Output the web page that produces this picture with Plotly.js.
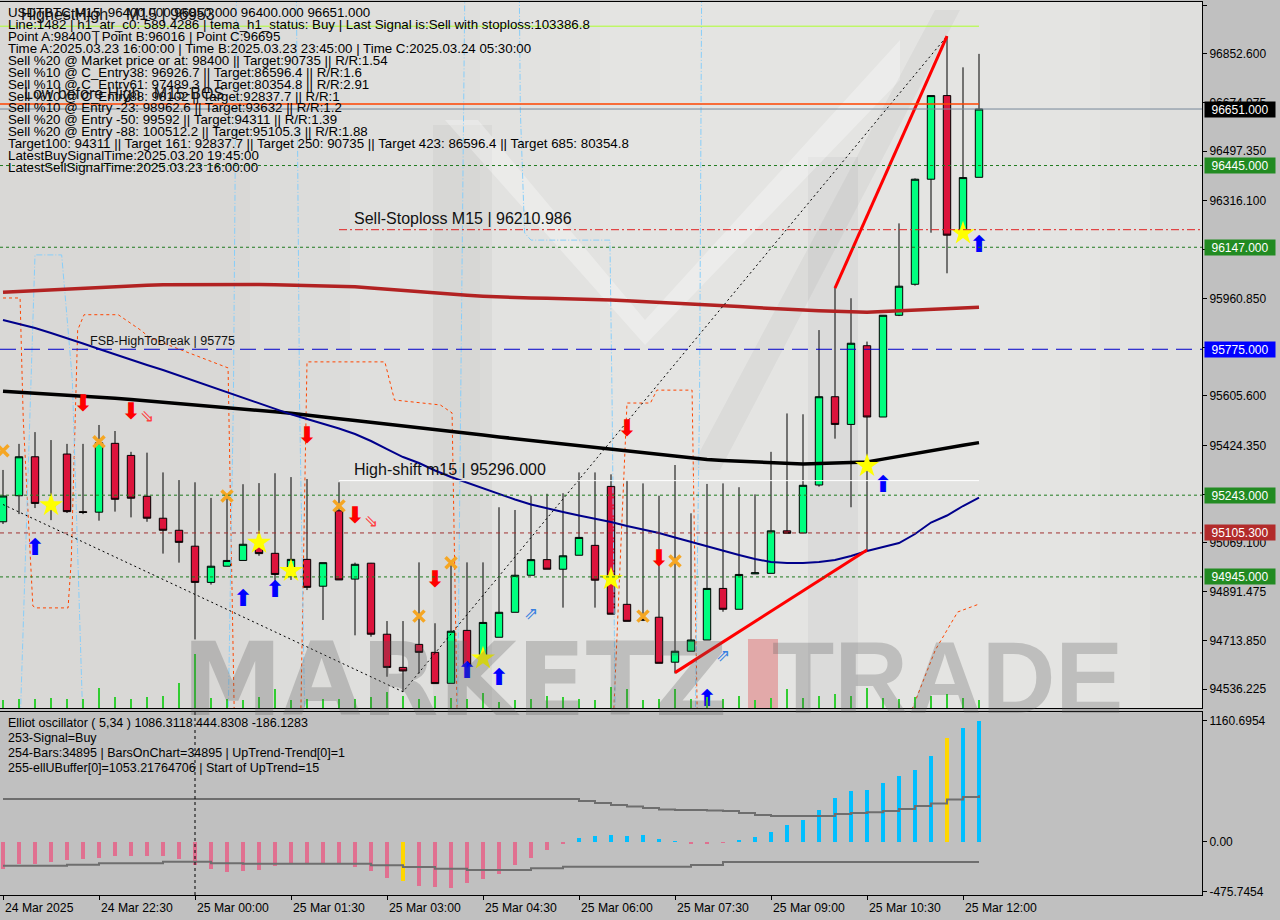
<!DOCTYPE html>
<html><head><meta charset="utf-8">
<script src="https://cdn.plot.ly/plotly-3.0.1.min.js"></script>
<style>html,body{margin:0;padding:0;background:#c0c0c0}#chart{width:1280px;height:920px}</style>
</head><body><div id="chart"></div>
<script>
// ---------------- DATA ----------------
const times = [
'2025-03-24 21:00','2025-03-24 21:15','2025-03-24 21:30','2025-03-24 21:45','2025-03-24 22:00','2025-03-24 22:15',
'2025-03-24 22:30','2025-03-24 22:45','2025-03-24 23:00','2025-03-24 23:15','2025-03-24 23:30','2025-03-24 23:45',
'2025-03-25 00:00','2025-03-25 00:15','2025-03-25 00:30','2025-03-25 00:45','2025-03-25 01:00','2025-03-25 01:15',
'2025-03-25 01:30','2025-03-25 01:45','2025-03-25 02:00','2025-03-25 02:15','2025-03-25 02:30','2025-03-25 02:45',
'2025-03-25 03:00','2025-03-25 03:15','2025-03-25 03:30','2025-03-25 03:45','2025-03-25 04:00','2025-03-25 04:15',
'2025-03-25 04:30','2025-03-25 04:45','2025-03-25 05:00','2025-03-25 05:15','2025-03-25 05:30','2025-03-25 05:45',
'2025-03-25 06:00','2025-03-25 06:15','2025-03-25 06:30','2025-03-25 06:45','2025-03-25 07:00','2025-03-25 07:15',
'2025-03-25 07:30','2025-03-25 07:45','2025-03-25 08:00','2025-03-25 08:15','2025-03-25 08:30','2025-03-25 08:45',
'2025-03-25 09:00','2025-03-25 09:15','2025-03-25 09:30','2025-03-25 09:45','2025-03-25 10:00','2025-03-25 10:15',
'2025-03-25 10:30','2025-03-25 10:45','2025-03-25 11:00','2025-03-25 11:15','2025-03-25 11:30','2025-03-25 11:45',
'2025-03-25 12:00','2025-03-25 12:15'];

const open = [95146,95241,95383,95211,95393,95183,95181,95432,95388,95239, 95159,95115,95057,94925,94984,95005,95055,95031,94954,95009,
  94911,95186,94937,94995,94736,94615,94699,94670,94557,94750, 94655,94725,94816,94951,95008,94973,95024,95060,95275,94845,
  94791,94798,94634,94674,94715,94903,94827,94956,94958,95113, 95105,95280,95602,95501,95788,95528,95899,96012,96395,96700,
  96210,96402];
const high = [95335,95430,95473,95444,95430,95430,95499,95477,95401,95398, 95326,95298,95290,95233,95237,95283,95287,95323,95309,95302,
  94997,95290,94997,94996,94784,94784,94998,94776,94998,94998, 94998,95199,95189,95241,95248,95250,95326,95326,95319,95297,
  95286,95241,95353,95177,95284,95286,95272,95246,95401,95541, 95538,95845,96001,95961,95803,95899,96234,96398,96700,96917,
  96803,96852];
const low = [95138,95174,95196,95152,95178,95174,95150,95183,95162,95146, 95030,94997,94717,94917,94984,95005,95022,94897,94934,94897,
  94788,94934,94732,94727,94581,94526,94593,94556,94557,94618, 94655,94725,94816,94951,94973,94833,95024,94833,94809,94783,
  94784,94630,94593,94674,94715,94818,94827,94956,94958,95104, 95105,95274,95449,95199,95043,95528,95896,96007,96200,96052,
  96192,96402];
const close = [95240,95383,95213,95200,95183,95180,95434,95228,95232,95159, 95115,95071,94925,94984,95005,95064,95030,94954,95009,94907,
  94997,94934,94991,94736,94615,94602,94670,94556,94747,94621, 94779,94816,94951,95008,94973,95022,95089,94933,94809,94783,
  94788,94630,94674,94715,94903,94827,94954,94960,95113,95104, 95279,95602,95501,95797,95528,95899,96005,96395,96700,96191,
  96401,96651];
const volumes = [8,9,9,10,9,9,20,11,9,11, 12,25,54,10,9,8,11,19,8,9, 9,9,9,11,16,12,9,12,10,9,
  15,6,8,9,12,11,9,8,21,19, 8,9,19,9,11,9,12,8,10,19, 10,12,14,12,20,10,9,11,12,14, 10,8];

const maSlow = [95982.7,95985.6,95989.2,95992.9,95996.5,95999.1,96002.0,96004.5,96006.4,96008.6, 96010.0,96010.7,96011.1,96011.5,96011.8,96011.8,96011.1,96010.0,96008.6,96007.5,
  96006.7,96005.6,96002.7,95998.3,95993.6,95988.1,95983.0,95978.3,95974.6,95971.7, 95968.5,95965.5,95963.3,95961.9,95960.8,95959.7,95959.0,95957.1,95954.6,95951.7,
  95949.1,95946.6,95943.7,95940.7,95937.5,95934.2,95930.9,95927.2,95923.6,95920.7, 95918.1,95915.6,95913.4,95910.8,95909.7,95912.3,95915.2,95917.0,95920.0,95922.5,
  95925.4,95928.0];
const maMid = [95622.1,95618.8,95615.1,95611.5,95608.2,95604.6,95600.9,95596.5,95591.8,95587.1, 95582.7,95577.9,95573.2,95568.1,95563.0,95557.5,95552.4,95546.9,95541.8,95536.0,
  95528.7,95521.8,95514.9,95507.9,95501.0,95494.1,95487.5,95481.0,95474.8,95468.2, 95462.0,95455.4,95448.9,95442.7,95436.1,95429.9,95423.3,95416.8,95410.6,95404.0,
  95397.8,95391.3,95384.7,95378.5,95373.4,95369.7,95366.5,95363.2,95360.3,95357.4, 95356.6,95358.4,95360.3,95362.1,95363.9,95374.5,95385.1,95395.3,95406.2,95415.7,
  95425.2,95434.6];
const maFast = [95881.7,95867.1,95852.5,95834.3,95816.0,95796.0,95775.9,95755.9,95735.8,95717.6, 95699.4,95679.3,95659.3,95639.2,95619.1,95599.1,95579.0,95558.3,95537.8,95520.7,
  95504.3,95486.1,95466.0,95440.5,95411.3,95382.1,95360.3,95332.9,95309.2,95288.4, 95269.1,95247.2,95227.2,95208.9,95194.4,95181.6,95168.8,95157.9,95145.1,95130.6,
  95117.8,95105.0,95088.6,95072.2,95055.8,95041.2,95024.8,95010.2,94999.3,94995.6, 94995.6,94999.3,95006.6,95021.2,95039.4,95054.0,95068.6,95101.4,95143.3,95168.8,
  95203.5,95233.7];

// Elliott oscillator
const osc = [-265,-217,-211,-192,-178,-163,-153,-134,-134,-134, -134,-163,-226,-259,-288,-278,-269,-230,-217,-214,
  -217,-214,-240,-278,-345,-377,-422,-432,-441,-393, -355,-310,-221,-153,-80,-22,35,55,64,55,
  64,26,7,-22,-22,-8,16,45,93,163, 211,307,419,489,499,566,630,688,822,995, 1086,1161];
const oscUpper = [410,410,410,410,410,410,410,410,410,410, 410,410,410,410,410,410,410,410,410,410,
  410,410,410,410,410,410,410,410,410,410, 410,410,410,410,410,410,390,371,352,338,
  323,309,304,304,299,295,275,256,247,247, 247,247,266,275,282,295,314,342,366,405, 429,445];
const oscLower = [-230,-230,-230,-230,-221,-221,-207,-207,-207,-207, -192,-192,-192,-207,-207,-211,-211,-211,-211,-211,
  -211,-211,-211,-226,-226,-243,-243,-259,-259,-271, -271,-271,-271,-255,-255,-240,-240,-240,-240,-240,
  -240,-240,-240,-224,-224,-195,-195,-195,-195,-195, -195,-195,-195,-195,-195,-195,-195,-195,-195,-195, -195,-195];
const oscSignalBars = ['2025-03-25 03:15','2025-03-25 11:45'];

// Signals
const starTimes = ['2025-03-24 21:45','2025-03-25 01:00','2025-03-25 01:30','2025-03-25 04:30','2025-03-25 06:30','2025-03-25 10:30','2025-03-25 12:00'];
const starPrices = [95207,95070,94967,94648,94937,95350,96198];
const crossTimes = ['2025-03-24 21:00','2025-03-24 22:30','2025-03-25 00:30','2025-03-25 02:15','2025-03-25 03:30','2025-03-25 04:00','2025-03-25 07:00','2025-03-25 07:30'];
const crossPrices = [95405,95438,95240,95204,94802,94997,94802,95003];
const sellArrowTimes = ['2025-03-24 22:15','2025-03-24 23:00','2025-03-25 01:45','2025-03-25 02:30','2025-03-25 03:45','2025-03-25 06:45','2025-03-25 07:15'];
const sellArrowPrices = [95572,95542,95453,95164,94928,95481,95007];
const sellHollowTimes = ['2025-03-24 23:15','2025-03-25 02:45'];
const sellHollowPrices = [95525,95143];
const buyArrowTimes = ['2025-03-24 21:30','2025-03-25 00:45','2025-03-25 01:15','2025-03-25 04:15','2025-03-25 04:45','2025-03-25 08:00','2025-03-25 10:45','2025-03-25 12:15'];
const buyArrowPrices = [95047,94861,94891,94596,94573,94496,95274,96149];
const buyHollowTimes = ['2025-03-25 05:15','2025-03-25 08:15'];
const buyHollowPrices = [94806,94654];

// ZigZag and trend lines
const zigzagTimes = ['2025-03-24 21:00','2025-03-25 03:15','2025-03-25 11:45'];
const zigzagPrices = [95209,94526,96917];
const trendATimes = ['2025-03-25 07:30','2025-03-25 10:30'];
const trendAPrices = [94596,95043];
const trendBTimes = ['2025-03-25 10:00','2025-03-25 11:45'];
const trendBPrices = [95998,96917];

// Stop envelopes (null breaks segments)
const orangeTimes = ['2025-03-24 21:00','2025-03-24 21:16','2025-03-24 21:19','2025-03-24 21:28','2025-03-24 21:31','2025-03-24 22:01','2025-03-24 22:04','2025-03-24 22:10','2025-03-24 22:16','2025-03-24 22:48','2025-03-24 23:09','2025-03-24 23:18','2025-03-25 00:31','2025-03-25 00:37',null,
  '2025-03-25 01:39','2025-03-25 01:45','2025-03-25 02:58','2025-03-25 03:07','2025-03-25 03:50','2025-03-25 04:01','2025-03-25 04:06',null,
  '2025-03-25 06:32','2025-03-25 06:45','2025-03-25 07:07','2025-03-25 07:13','2025-03-25 07:46','2025-03-25 07:51',null,
  '2025-03-25 11:06','2025-03-25 11:34','2025-03-25 11:55','2025-03-25 12:15'];
const orangePrices = [95962,95962,95517,94839,94832,94832,95007,95845,95901,95901,95845,95816,95707,94400,null,
  94400,95729,95729,95590,95572,95543,94400,null,
  94400,95579,95579,95626,95626,94400,null,
  94400,94678,94817,94846];
const skyTimes = ['2025-03-24 21:16','2025-03-24 21:26','2025-03-24 21:30','2025-03-24 21:55','2025-03-24 22:05','2025-03-24 22:15',null,
  '2025-03-25 00:39','2025-03-25 00:36','2025-03-25 00:31',null,
  '2025-03-25 01:35','2025-03-25 01:38','2025-03-25 01:43',null,
  '2025-03-25 04:06','2025-03-25 04:10','2025-03-25 04:13',null,
  '2025-03-25 05:04','2025-03-25 05:05','2025-03-25 05:09','2025-03-25 05:15','2025-03-25 06:29','2025-03-25 06:31','2025-03-25 06:34',null,
  '2025-03-25 07:55','2025-03-25 07:53','2025-03-25 07:49'];
const skyPrices = [94400,95663,96119,96119,95663,94400,null,
  97100,95590,94400,null,
  97100,95590,94400,null,
  94400,95955,97100,null,
  97100,96647,96199,96173,96173,95590,94400,null,
  97100,95590,94400];

// Levels
const lastPrice = 96651;
const highestHigh = 96953;
const lowBeforeHigh = 96669;
const sellStoploss = 96210.986;
const highShift = 95296;
const fsbHigh = 95775;
const greenLevels = [96445, 96147, 95243, 94945];
const brownLevel = 95105.3;
const boxPrices = [96651, 96445, 96147, 95775, 95243, 95105.3, 94945];

// Axes ticks
const yTicks = [97030.225,96852.6,96674.975,96497.35,96316.1,96138.475,95960.85,95783.225,95605.6,95424.35,95246.725,95069.1,94891.475,94713.85,94536.225];
const oscTicks = [1160.6954, 0, -475.7454];
const oscTickText = ['1160.6954','0.00','-475.7454'];
const xTickTimes = ['2025-03-24 21:00','2025-03-24 22:30','2025-03-25 00:00','2025-03-25 01:30','2025-03-25 03:00','2025-03-25 04:30','2025-03-25 06:00','2025-03-25 07:30','2025-03-25 09:00','2025-03-25 10:30','2025-03-25 12:00'];
const xTickText = ['24 Mar 2025','24 Mar 22:30','25 Mar 00:00','25 Mar 01:30','25 Mar 03:00','25 Mar 04:30','25 Mar 06:00','25 Mar 07:30','25 Mar 09:00','25 Mar 10:30','25 Mar 12:00'];

const infoLines = [
 'USDTBTC,M15  96400.000 96850.000 96400.000 96651.000',
 'Line:1482 | h1_atr_c0: 589.4286 | tema_h1_status: Buy | Last Signal is:Sell with stoploss:103386.8',
 'Point A:98400 | Point B:96016 | Point C:96695',
 'Time A:2025.03.23 16:00:00 | Time B:2025.03.23 23:45:00 | Time C:2025.03.24 05:30:00',
 'Sell %20 @ Market price or at: 98400 || Target:90735 || R/R:1.54',
 'Sell %10 @ C_Entry38: 96926.7 || Target:86596.4 || R/R:1.6',
 'Sell %10 @ C_Entry61: 97489.3 || Target:80354.8 || R/R:2.91',
 'Sell %10 @ C_Entry88: 98102 || Target:92837.7 || R/R:1',
 'Sell %10 @ Entry -23: 98962.6 || Target:93632 || R/R:1.2',
 'Sell %20 @ Entry -50: 99592 || Target:94311 || R/R:1.39',
 'Sell %20 @ Entry -88: 100512.2 || Target:95105.3 || R/R:1.88',
 'Target100: 94311 || Target 161: 92837.7 || Target 250: 90735 || Target 423: 86596.4 || Target 685: 80354.8',
 'LatestBuySignalTime:2025.03.20 19:45:00',
 'LatestSellSignalTime:2025.03.23 16:00:00'];
const oscInfo = [
 'Elliot oscillator ( 5,34 ) 1086.3118 444.8308 -186.1283',
 '253-Signal=Buy',
 '254-Bars:34895 | BarsOnChart=34895 | UpTrend-Trend[0]=1',
 '255-ellUBuffer[0]=1053.21764706 | Start of UpTrend=15'];

// ---------------- LAYOUT HELPERS ----------------
const W = 1202, TOP = 2, BOT = 895, H = BOT - TOP;
const px = x => x / W;
const py = y => (BOT - y) / H;
const FONT = 'Liberation Sans, Arial, sans-serif';
const xRange = ['2025-03-24 20:57:11', '2025-03-25 15:44:04'];

const traces = [];
traces.push({type:'bar', x:times, y:volumes, xaxis:'x', yaxis:'y3', width:70000,
  marker:{color:'#32cd32', line:{width:0}}, hoverinfo:'skip'});
traces.push({type:'scatter', mode:'lines', x:orangeTimes, y:orangePrices, connectgaps:false,
  line:{color:'#ff4500', width:1, dash:'3px,3px'}, hoverinfo:'skip'});
traces.push({type:'scatter', mode:'lines', x:skyTimes, y:skyPrices, connectgaps:false,
  line:{color:'#87cefa', width:1, dash:'6px,2px,1px,2px'}, hoverinfo:'skip'});
traces.push({type:'candlestick', x:times, open:open, high:high, low:low, close:close, xaxis:'x', yaxis:'y',
  increasing:{fillcolor:'#00ff7f', line:{color:'#000000', width:1}},
  decreasing:{fillcolor:'#dc143c', line:{color:'#000000', width:1}},
  whiskerwidth:0, hoverinfo:'skip'});
traces.push({type:'scatter', mode:'lines', x:times, y:maSlow, line:{color:'#b22222', width:3.5}, hoverinfo:'skip'});
traces.push({type:'scatter', mode:'lines', x:times, y:maMid, line:{color:'#000000', width:3.5}, hoverinfo:'skip'});
traces.push({type:'scatter', mode:'lines', x:times, y:maFast, line:{color:'#00008b', width:2}, hoverinfo:'skip'});
traces.push({type:'scatter', mode:'lines', x:zigzagTimes, y:zigzagPrices, line:{color:'#000000', width:1, dash:'2px,3px'}, hoverinfo:'skip'});
traces.push({type:'scatter', mode:'lines', x:trendATimes, y:trendAPrices, line:{color:'#ff0000', width:3}, hoverinfo:'skip'});
traces.push({type:'scatter', mode:'lines', x:trendBTimes, y:trendBPrices, line:{color:'#ff0000', width:3}, hoverinfo:'skip'});
traces.push({type:'scatter', mode:'markers', x:crossTimes, y:crossPrices,
  marker:{symbol:'x-thin', size:11, line:{color:'#f5a623', width:3.5}}, hoverinfo:'skip'});
traces.push({type:'scatter', mode:'text', x:sellArrowTimes, y:sellArrowPrices, text:sellArrowTimes.map(()=>'⬇'),
  textposition:'middle center', textfont:{family:'DejaVu Sans', size:23, weight:'bold', color:'#ff0000'}, hoverinfo:'skip'});
traces.push({type:'scatter', mode:'text', x:buyArrowTimes, y:buyArrowPrices, text:buyArrowTimes.map(()=>'⬆'),
  textposition:'middle center', textfont:{family:'DejaVu Sans', size:23, weight:'bold', color:'#0000ff'}, hoverinfo:'skip'});
traces.push({type:'scatter', mode:'text', x:sellHollowTimes, y:sellHollowPrices, text:sellHollowTimes.map(()=>'⇘'),
  textposition:'middle center', textfont:{family:'DejaVu Sans', size:17, color:'#ff4040'}, hoverinfo:'skip'});
traces.push({type:'scatter', mode:'text', x:buyHollowTimes, y:buyHollowPrices, text:buyHollowTimes.map(()=>'⇗'),
  textposition:'middle center', textfont:{family:'DejaVu Sans', size:17, color:'#3a7fe0'}, hoverinfo:'skip'});
traces.push({type:'scatter', mode:'markers', x:starTimes, y:starPrices,
  marker:{symbol:'star', size:18, color:'#ffff00', line:{width:0}}, hoverinfo:'skip'});

traces.push({type:'bar', x:times, y:osc, xaxis:'x2', yaxis:'y2', width:170000,
  marker:{color: times.map((t,i)=> oscSignalBars.includes(t) ? '#ffd700' : (osc[i] >= 0 ? '#00bfff' : '#e07090')), line:{width:0}},
  hoverinfo:'skip'});
traces.push({type:'scatter', mode:'lines', x:times, y:oscUpper, xaxis:'x2', yaxis:'y2', line:{color:'#6e6e6e', width:2, shape:'hv'}, hoverinfo:'skip'});
traces.push({type:'scatter', mode:'lines', x:times, y:oscLower, xaxis:'x2', yaxis:'y2', line:{color:'#6e6e6e', width:2, shape:'hv'}, hoverinfo:'skip'});

// ---------------- SHAPES ----------------
const shapes = [];
shapes.push({type:'rect', xref:'paper', yref:'y domain', x0:0, x1:1, y0:0, y1:1, fillcolor:'#d9d8d6', line:{width:0}, layer:'below'});
[[250,1202,0.10],[350,1202,0.10],[480,1150,0.10],[600,1100,0.08]].forEach(r=>{
  shapes.push({type:'rect', xref:'paper', yref:'y domain', x0:px(r[0]), x1:px(r[1]), y0:0, y1:1, fillcolor:'rgba(255,255,255,'+r[2]+')', line:{width:0}, layer:'below'});
});
shapes.push({type:'rect', xref:'paper', yref:'paper', x0:px(433), x1:px(492), y0:py(708), y1:py(125), fillcolor:'rgba(0,0,0,0.035)', line:{width:0}, layer:'below'});
shapes.push({type:'rect', xref:'paper', yref:'paper', x0:px(808), x1:px(858), y0:py(708), y1:py(157), fillcolor:'rgba(0,0,0,0.035)', line:{width:0}, layer:'below'});
shapes.push({type:'path', xref:'paper', yref:'paper', layer:'below', line:{width:0}, fillcolor:'rgba(255,255,255,0.3)',
  path:`M${px(445)},${py(120)} L${px(478)},${py(120)} L${px(645)},${py(320)} L${px(900)},${py(40)} L${px(900)},${py(80)} L${px(645)},${py(345)} Z`});
shapes.push({type:'path', xref:'paper', yref:'paper', layer:'below', line:{width:0}, fillcolor:'rgba(0,0,0,0.04)',
  path:`M${px(690)},${py(470)} L${px(935)},${py(10)} L${px(960)},${py(10)} L${px(720)},${py(470)} Z`});
shapes.push({type:'rect', xref:'paper', yref:'paper', x0:px(748), x1:px(778), y0:py(708), y1:py(639), fillcolor:'#e2a9a9', line:{width:0}, layer:'below'});

greenLevels.forEach(v=>shapes.push({type:'line', xref:'paper', yref:'y', x0:0, x1:1, y0:v, y1:v, line:{color:'#1f7a1f', width:1, dash:'3px,3px'}}));
shapes.push({type:'line', xref:'paper', yref:'y', x0:0, x1:1, y0:brownLevel, y1:brownLevel, line:{color:'#a03030', width:1, dash:'4px,4px'}});
shapes.push({type:'line', xref:'paper', yref:'y', x0:0, x1:1, y0:fsbHigh, y1:fsbHigh, line:{color:'#0000cc', width:1, dash:'16px,8px'}});
shapes.push({type:'line', xref:'paper', yref:'y', x0:0, x1:1, y0:lastPrice, y1:lastPrice, line:{color:'#778899', width:1}});
shapes.push({type:'line', xref:'x', yref:'y', x0:'2025-03-24 20:00', x1:times[61], y0:highestHigh, y1:highestHigh, line:{color:'#adff2f', width:1}});
shapes.push({type:'line', xref:'x', yref:'y', x0:'2025-03-24 20:00', x1:times[61], y0:lowBeforeHigh, y1:lowBeforeHigh, line:{color:'#ff4500', width:1.5}});
shapes.push({type:'line', xref:'x', yref:'y', x0:times[21], x1:'2025-03-25 16:00', y0:sellStoploss, y1:sellStoploss, line:{color:'#e02020', width:1, dash:'8px,3px,2px,3px'}});
shapes.push({type:'line', xref:'x', yref:'y', x0:times[21], x1:times[61], y0:highShift, y1:highShift, line:{color:'#ffffff', width:1}});
shapes.push({type:'line', xref:'x2', yref:'y2 domain', x0:'2025-03-25 00:00', x1:'2025-03-25 00:00', y0:0, y1:1, line:{color:'#000000', width:1, dash:'3px,3px'}});

// ---------------- ANNOTATIONS ----------------
const ann = [];
ann.push({xref:'paper', yref:'paper', x:px(455), y:py(619), xanchor:'center', yanchor:'top', showarrow:false, text:'MARKETZ',
  font:{family:'DejaVu Sans, sans-serif', size:101, weight:'bold', color:'rgba(90,90,90,0.27)'}});
ann.push({xref:'paper', yref:'paper', x:px(947), y:py(619), xanchor:'center', yanchor:'top', showarrow:false, text:'TRADE',
  font:{family:FONT, size:102, weight:'bold', color:'rgba(90,90,90,0.27)'}});
infoLines.forEach((t,i)=>ann.push({xref:'paper', yref:'paper', x:px(6), y:py(12.7 + i*11.9), xanchor:'left', yanchor:'middle',
  showarrow:false, text:t, font:{family:FONT, size:13.3, color:'#000000'}}));
ann.push({xref:'paper', yref:'y', x:px(19), y:highestHigh, xanchor:'left', yanchor:'bottom', yshift:1, showarrow:false,
  text:'HighestHigh    M15 | 96953', font:{family:FONT, size:16, color:'#111111'}});
ann.push({xref:'paper', yref:'y', x:px(22), y:lowBeforeHigh, xanchor:'left', yanchor:'bottom', yshift:0, showarrow:false,
  text:'Low before High   M15-BOS', font:{family:FONT, size:16, color:'#111111'}});
ann.push({xref:'paper', yref:'y', x:px(352), y:sellStoploss, xanchor:'left', yanchor:'bottom', yshift:1, showarrow:false,
  text:'Sell-Stoploss M15 | 96210.986', font:{family:FONT, size:16, color:'#111111'}});
ann.push({xref:'paper', yref:'y', x:px(352), y:highShift, xanchor:'left', yanchor:'bottom', yshift:1, showarrow:false,
  text:'High-shift m15 | 95296.000', font:{family:FONT, size:16, color:'#111111'}});
ann.push({xref:'paper', yref:'y', x:px(88), y:fsbHigh, xanchor:'left', yanchor:'bottom', yshift:-1, showarrow:false,
  text:'FSB-HighToBreak | 95775', font:{family:FONT, size:12.5, color:'#111111'}});
oscInfo.forEach((t,i)=>ann.push({xref:'paper', yref:'paper', x:px(6), y:py(722.5 + i*15), xanchor:'left', yanchor:'middle',
  showarrow:false, text:t, font:{family:FONT, size:12.5, color:'#000000'}}));
xTickTimes.forEach((t,i)=>ann.push({xref:'x2', yref:'paper', x:t, y:py(907.5), xanchor:'left', yanchor:'middle', xshift:0,
  showarrow:false, text:xTickText[i], font:{family:FONT, size:12.2, color:'#000000'}}));
const boxBg = ['#000000','#228b22','#228b22','#0000ff','#228b22','#b22b2b','#228b22'];
boxPrices.forEach((v,i)=>ann.push({xref:'paper', yref:'y', x:1, y:v, xanchor:'left', yanchor:'middle', xshift:2, showarrow:false,
  text:v.toFixed(3), bgcolor:boxBg[i], borderpad:0, width:70, height:15, align:'center',
  font:{family:FONT, size:12, color:'#ffffff'}}));

const layout = {
  width:1280, height:920,
  margin:{l:0, r:78, t:2, b:25, pad:0},
  paper_bgcolor:'#c0c0c0', plot_bgcolor:'#c0c0c0',
  showlegend:false, boxgap:0.34, bargap:0,
  xaxis:{type:'date', range:xRange, domain:[0,1], anchor:'y', showgrid:false, zeroline:false, showline:true, mirror:true,
    linecolor:'#000000', linewidth:1, ticks:'', showticklabels:false, automargin:false, rangeslider:{visible:false}},
  xaxis2:{type:'date', matches:'x', range:xRange, anchor:'y2', showgrid:false, zeroline:false, showline:true, mirror:true,
    linecolor:'#000000', linewidth:1, ticks:'outside', ticklen:4, tickcolor:'#000000', tickmode:'array', tickvals:xTickTimes,
    showticklabels:false, automargin:false},
  yaxis:{domain:[0.2094,1], range:[94467.0, 97041.2], side:'right', anchor:'x', showgrid:false, zeroline:false,
    showline:true, mirror:true, linecolor:'#000000', linewidth:1, ticks:'outside', ticklen:4, tickcolor:'#000000',
    tickmode:'array', tickvals:yTicks, ticktext:yTicks.map(v=>v.toFixed(3)),
    tickfont:{family:FONT, size:12, color:'#000000'}, automargin:false},
  yaxis2:{domain:[0,0.2049], range:[-511,1244], side:'right', anchor:'x2', showgrid:false, zeroline:false,
    showline:true, mirror:true, linecolor:'#000000', linewidth:1, ticks:'outside', ticklen:4, tickcolor:'#000000',
    tickmode:'array', tickvals:oscTicks, ticktext:oscTickText,
    tickfont:{family:FONT, size:12, color:'#000000'}, automargin:false},
  yaxis3:{overlaying:'y', anchor:'x', range:[0,706], visible:false, showgrid:false, zeroline:false},
  shapes:shapes, annotations:ann
};

Plotly.newPlot('chart', traces, layout, {staticPlot:true, displayModeBar:false});
</script></body></html>
